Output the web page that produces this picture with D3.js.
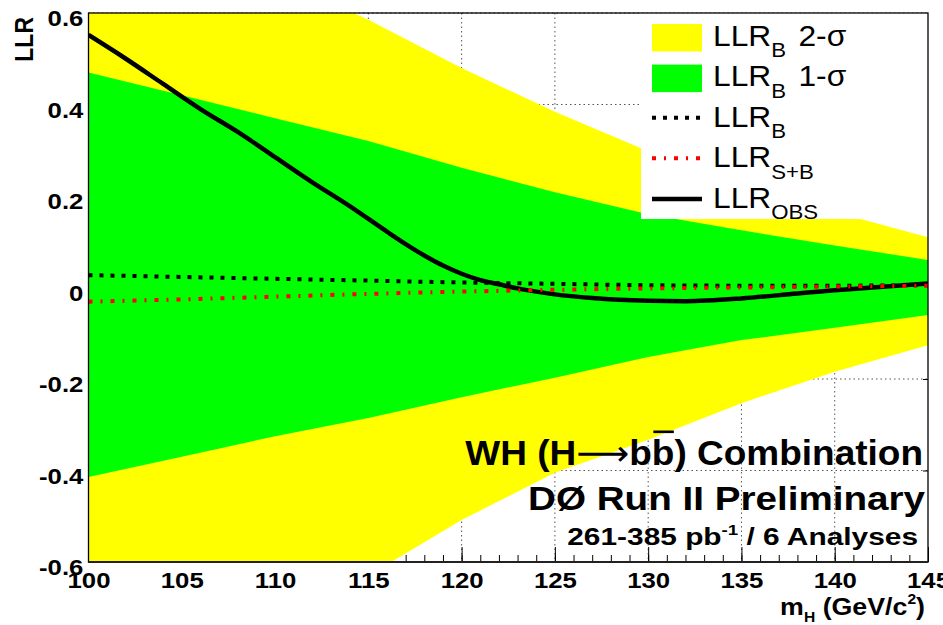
<!DOCTYPE html>
<html>
<head>
<meta charset="utf-8">
<script src="https://cdn.jsdelivr.net/npm/d3@7"></script>
<style>
  html, body { margin: 0; padding: 0; background: #fff; }
  svg { display: block; }
  text { font-family: "Liberation Sans", Arial, Helvetica, sans-serif; }
</style>
</head>
<body>
<svg id="chart" width="943" height="625"></svg>
<script>
// Higgs mass points (GeV/c^2) where the expected bands are evaluated
const masses = [100, 105, 110, 115, 120, 125, 130, 135, 140, 145];

// Expected background-only LLR and its +/-1 sigma, +/-2 sigma bands
const llrB       = [0.027, 0.023, 0.019, 0.015, 0.011, 0.008, 0.005, 0.004, 0.004, 0.005];
const sigma1Up   = [0.470, 0.420, 0.370, 0.320, 0.262, 0.208, 0.160, 0.125, 0.092, 0.060];
const sigma1Down = [-0.414, -0.370, -0.325, -0.285, -0.240, -0.197, -0.152, -0.115, -0.088, -0.060];
const sigma2Up   = [0.890, 0.780, 0.680, 0.585, 0.480, 0.384, 0.298, 0.230, 0.165, 0.110];
const sigma2Down = [-0.980, -0.860, -0.750, -0.630, -0.508, -0.405, -0.333, -0.253, -0.184, -0.126];

// Expected signal+background LLR
const llrSB      = [-0.031, -0.026, -0.020, -0.014, -0.009, -0.005, -0.002, 0.000, 0.002, 0.004];

// Observed LLR
const obsMass  = [100, 102, 104, 106, 108, 110, 112, 114, 116, 117, 118, 119, 120, 121, 122, 123, 124, 125, 127, 130, 132, 135, 138, 140, 142, 145];
const obsValue = [0.552, 0.500, 0.445, 0.390, 0.340, 0.285, 0.230, 0.178, 0.122, 0.095, 0.070, 0.048, 0.030, 0.016, 0.007, -0.002, -0.009, -0.015, -0.023, -0.029, -0.030, -0.024, -0.013, -0.006, 0.000, 0.009];

// Axis ticks
const xTicks = [100, 105, 110, 115, 120, 125, 130, 135, 140, 145];
const xTickLabels = ["100", "105", "110", "115", "120", "125", "130", "135", "140", "145"];
const yTicks = [-0.6, -0.4, -0.2, 0, 0.2, 0.4, 0.6];
const yTickLabels = ["-0.6", "-0.4", "-0.2", "0", "0.2", "0.4", "0.6"];

const C_YELLOW = "#ffff00", C_GREEN = "#00ff00", C_RED = "#ff0000";
const FONT = "'Liberation Sans', Arial, Helvetica, sans-serif";
const SX = 1.12; // horizontal stretch of the lettering

const svg = d3.select("#chart");
const L = 88.5, R = 928, T = 13, B = 562;

const x = d3.scaleLinear().domain([100, 145]).range([L, R]);
const y = d3.scaleLinear().domain([-0.6, 0.6]).range([B, T]);

svg.append("rect").attr("width", 943).attr("height", 625).attr("fill", "#fff");

svg.append("defs").append("clipPath").attr("id", "plotClip")
  .append("rect").attr("x", L).attr("y", T).attr("width", R - L).attr("height", B - T);

// Dotted grid
const grid = svg.append("g").attr("stroke", "#555").attr("stroke-width", 1).attr("stroke-dasharray", "1.5,3");
grid.selectAll("line.v").data(xTicks.slice(1, -1)).join("line")
  .attr("x1", d => x(d)).attr("x2", d => x(d)).attr("y1", T).attr("y2", B);
grid.selectAll("line.h").data(yTicks.slice(1)).join("line")
  .attr("x1", L).attr("x2", R).attr("y1", d => y(d)).attr("y2", d => y(d));

// Axes
const xAxis = svg.append("g").attr("transform", `translate(0,${B})`)
  .call(d3.axisBottom(x).tickValues(xTicks).tickFormat((d, i) => xTickLabels[i]).tickSize(-15).tickPadding(10));
svg.append("g").attr("transform", `translate(0,${B})`)
  .call(d3.axisBottom(x).tickValues(d3.range(100, 146, 1)).tickFormat("").tickSize(-7));
const yAxis = svg.append("g").attr("transform", `translate(${L},0)`)
  .call(d3.axisLeft(y).tickValues(yTicks).tickFormat((d, i) => yTickLabels[i]).tickSize(-12).tickPadding(4.6));
svg.append("g").attr("transform", `translate(${R},0)`)
  .call(d3.axisRight(y).tickValues(yTicks).tickFormat("").tickSize(-5));
svg.selectAll(".domain").remove();
svg.selectAll(".tick line").attr("stroke", "#000").attr("stroke-width", 1);
xAxis.selectAll("text").attr("font-family", FONT).attr("font-size", 23).attr("font-weight", "bold")
  .attr("fill", "#000").attr("transform", `scale(${SX},1)`);
yAxis.selectAll("text").attr("font-family", FONT).attr("font-size", 23).attr("font-weight", "bold")
  .attr("fill", "#000").attr("dy", "0.55em").attr("transform", `scale(${SX},1)`);

// Expected bands and LLR curves
const plot = svg.append("g").attr("clip-path", "url(#plotClip)");
const band = (lo, hi) => d3.area().x((d, i) => x(masses[i])).y0((d, i) => y(lo[i])).y1((d, i) => y(hi[i]));
plot.append("path").datum(masses).attr("d", band(sigma2Down, sigma2Up)).attr("fill", C_YELLOW);
plot.append("path").datum(masses).attr("d", band(sigma1Down, sigma1Up)).attr("fill", C_GREEN);

const curve = (xs, ys) => d3.line().x((d, i) => x(xs[i])).y((d, i) => y(ys[i])).curve(d3.curveMonotoneX);
plot.append("path").datum(masses).attr("d", curve(masses, llrB))
  .attr("fill", "none").attr("stroke", "#000").attr("stroke-width", 4).attr("stroke-dasharray", "4,7");
plot.append("path").datum(obsMass).attr("d", curve(obsMass, obsValue))
  .attr("fill", "none").attr("stroke", "#000").attr("stroke-width", 4.5).attr("stroke-linejoin", "round");
plot.append("path").datum(masses).attr("d", curve(masses, llrSB))
  .attr("fill", "none").attr("stroke", C_RED).attr("stroke-width", 4).attr("stroke-dasharray", "4,8,2,8");

// Legend
const legend = svg.append("g");
legend.append("rect").attr("x", 641).attr("y", T).attr("width", R - 641).attr("height", 219 - T).attr("fill", "#fff");
const legendRows = [
  { kind: "fill", color: C_YELLOW, sub: "B", tail: "2-σ" },
  { kind: "fill", color: C_GREEN, sub: "B", tail: "1-σ" },
  { kind: "line", color: "#000", dash: "4,7", width: 4, sub: "B", tail: "" },
  { kind: "line", color: C_RED, dash: "4,8,2,8", width: 4, sub: "S+B", tail: "" },
  { kind: "line", color: "#000", dash: null, width: 4.5, sub: "OBS", tail: "" }
];
legendRows.forEach((r, i) => {
  const base = 45.5 + 40.6 * i;
  if (r.kind === "fill") {
    legend.append("rect").attr("x", 652).attr("y", base - 21.5).attr("width", 50).attr("height", 27.5).attr("fill", r.color);
  } else {
    legend.append("line").attr("x1", 652).attr("x2", 702).attr("y1", base - 9).attr("y2", base - 9)
      .attr("stroke", r.color).attr("stroke-width", r.width).attr("stroke-dasharray", r.dash);
  }
  const t = legend.append("g").attr("transform", `translate(713,${base}) scale(1.11,1)`)
    .append("text").attr("font-family", FONT).attr("font-size", 28.6).attr("fill", "#000");
  t.append("tspan").text("LLR");
  t.append("tspan").attr("font-size", 20).attr("dy", 11.5).text(r.sub);
  if (r.tail) t.append("tspan").attr("font-size", 28.6).attr("dy", -11.5).attr("x", 77).text(r.tail);
});

// Frame
svg.append("rect").attr("x", L).attr("y", T).attr("width", R - L).attr("height", B - T)
  .attr("fill", "none").attr("stroke", "#000").attr("stroke-width", 1.3);
svg.append("line").attr("x1", L).attr("x2", R).attr("y1", B).attr("y2", B).attr("stroke", "#222").attr("stroke-width", 2);

// Stretch a right-anchored label so it spans the given width
function placeRight(xr, base, width, build) {
  const g = svg.append("g");
  const t = g.append("text").attr("font-family", FONT).attr("font-weight", "bold").attr("fill", "#000").attr("text-anchor", "end");
  build(t);
  const w = t.node().getComputedTextLength();
  g.attr("transform", `translate(${xr},${base}) scale(${width / w},1)`);
  return { g, t };
}

// Titles
const title1 = placeRight(923, 465, 458, t => {
  t.attr("font-size", 35);
  t.append("tspan").text("WH (H");
  t.append("tspan").attr("font-family", "'DejaVu Sans', sans-serif").attr("font-weight", "normal").text("⟶");
  t.append("tspan").text("bb) Combination");
});
{
  const ext = title1.t.node().getExtentOfChar(7);
  title1.g.append("rect").attr("x", ext.x + 1.5).attr("y", -34.5).attr("width", ext.width - 2).attr("height", 2.6).attr("fill", "#000");
}
placeRight(925, 510, 397, t => t.attr("font-size", 34).text("DØ Run II Preliminary"));
placeRight(918, 545, 351, t => {
  t.attr("font-size", 24);
  t.append("tspan").text("261-385 pb");
  t.append("tspan").attr("font-size", 15).attr("dy", -10).text("-1");
  t.append("tspan").attr("dy", 10).text(" / 6 Analyses");
});

// Axis titles
placeRight(925, 615, 145, t => {
  t.attr("font-size", 24);
  t.append("tspan").text("m");
  t.append("tspan").attr("font-size", 14).attr("dy", 7).text("H");
  t.append("tspan").attr("dy", -7).text(" (GeV/c");
  t.append("tspan").attr("font-size", 14).attr("dy", -11).text("2");
  t.append("tspan").attr("dy", 11).text(")");
});
svg.append("g").attr("transform", `translate(33,17) scale(${SX},1) rotate(-90)`)
  .append("text").attr("font-family", FONT).attr("font-size", 23).attr("font-weight", "bold")
  .attr("text-anchor", "end").attr("fill", "#000").text("LLR");
</script>
</body>
</html>
